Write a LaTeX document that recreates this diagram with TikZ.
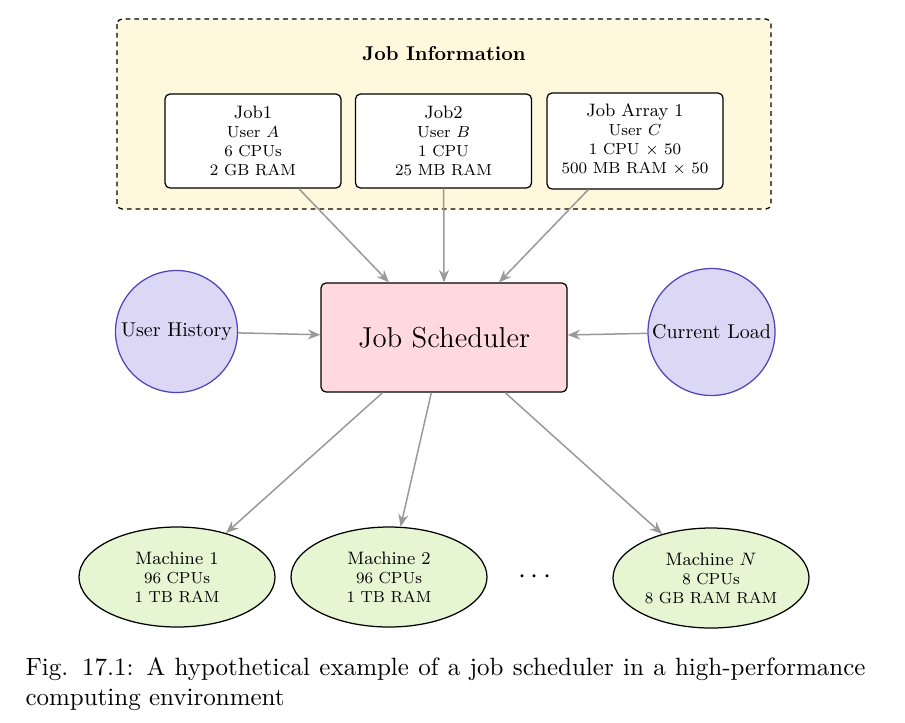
\documentclass[tikz,border=0pt]{standalone}
\usetikzlibrary{arrows.meta,shapes.geometric}
\definecolor{infofill}{HTML}{FFF8DC}
\definecolor{schedfill}{HTML}{FFD9DE}
\definecolor{circfill}{HTML}{DCD7F5}
\definecolor{circdraw}{HTML}{4E45B8}
\definecolor{machfill}{HTML}{E6F5D2}
\newcommand{\shrunk}[1]{\scalebox{0.8}{#1}}
\newcommand{\stack}[1]{\raisebox{-1pt}[\height][\depth]{\shrunk{\footnotesize\begin{tabular}{@{}c@{}}#1\end{tabular}}}}
\tikzset{
  infobox/.style={draw=black, fill=infofill, dash pattern=on 1.9pt off 1.6pt, line width=0.5pt, rounded corners=2pt},
  jobbox/.style={draw=black, fill=white, line width=0.5pt, rounded corners=2pt, minimum width=70.4pt, minimum height=37.6pt, inner sep=0pt},
  schedbox/.style={draw=black, fill=schedfill, line width=0.5pt, rounded corners=2pt, minimum width=98.4pt, minimum height=43.6pt, inner sep=0pt},
  infocirc/.style={circle, draw=circdraw, fill=circfill, line width=0.5pt, inner sep=0pt},
  machine/.style={ellipse, draw=black, fill=machfill, line width=0.5pt, minimum width=78.4pt, minimum height=40pt, inner sep=0pt},
  arr/.style={draw=gray!80, line width=0.6pt, -{Stealth[length=5pt,width=4pt]}}
}
\begin{document}
\begin{tikzpicture}[x=0.4pt, y=-0.4pt]
\useasboundingbox (0,0) rectangle (905,722);
% job information frame
\draw[infobox] (117,19) rectangle (771,209);
\node (infotitle) at (444,54) {\shrunk{\bfseries Job Information}};
% jobs
\node[jobbox] (job1) at (253,141) {\stack{{\small Job1}\\ User $A$\\ 6 CPUs\\ 2 GB RAM}};
\node[jobbox] (job2) at (443.5,141) {\stack{{\small Job2}\\ User $B$\\ 1 CPU\\ 25 MB RAM}};
\node[jobbox, minimum height=38.4pt] (job3) at (635,141) {\shrunk{\footnotesize\begin{tabular}{@{}c@{}}{\small Job Array 1}\\ User $C$\\ 1 CPU $\times$ 50\\ 500 MB RAM $\times$ 50\end{tabular}}};
% scheduler
\node[schedbox] (sched) at (444,337.5) {\shrunk{\Large Job Scheduler}};
% side inputs
\node[infocirc, minimum size=48.8pt] (hist) at (176.5,331.5) {\shrunk{User History}};
\node[infocirc, minimum size=50.8pt] (load) at (711.5,332) {\shrunk{Current Load}};
% machines
\node[machine] (m1) at (177,577) {\stack{{\small Machine 1}\\ 96 CPUs\\ 1 TB RAM}};
\node[machine] (m2) at (389,577) {\stack{{\small Machine 2}\\ 96 CPUs\\ 1 TB RAM}};
\node (dots) at (535,577) {\shrunk{\Large $\cdots$}};
\node[machine] (mn) at (711,578) {\stack{{\small Machine $N$}\\ 8 CPUs\\ 8 GB RAM RAM}};
% connectors
\coordinate (t1) at ([xshift=-22pt]sched.north);
\coordinate (t3) at ([xshift=22pt]sched.north);
\draw[arr] (job1) -- (t1);
\draw[arr] (job2) -- (sched.north);
\draw[arr] (job3) -- (t3);
\draw[arr] (hist) -- (sched);
\draw[arr] (load) -- (sched);
\draw[arr] (sched) -- (m1);
\draw[arr] (sched) -- (m2);
\draw[arr] (sched) -- (mn);
% caption
\node[anchor=base west, inner sep=0pt, text width=336pt, align=justify, font=\fontsize{10}{12}\selectfont] (caption) at (25,675)
  {Fig. 17.1: A hypothetical example of a job scheduler in a high-performance computing environment};
\end{tikzpicture}
\end{document}
